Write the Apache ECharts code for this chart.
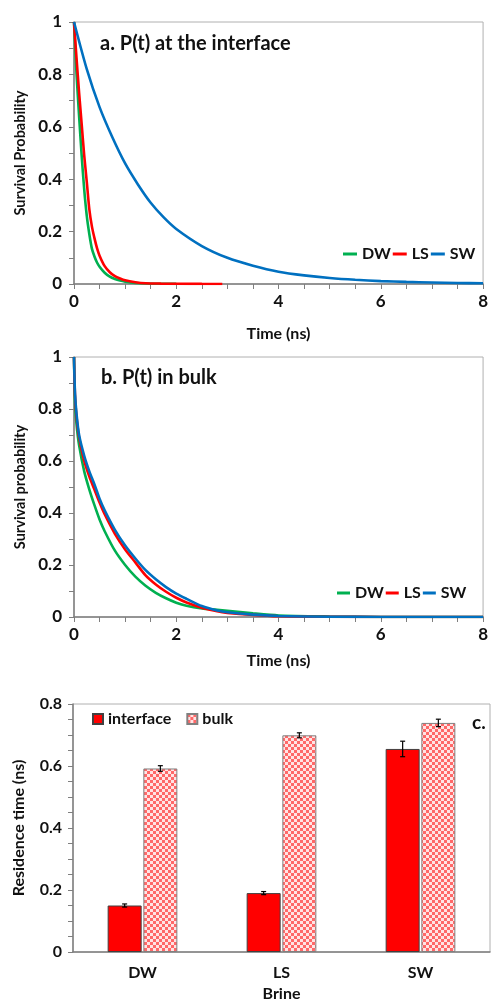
<!DOCTYPE html>
<html>
<head>
<meta charset="utf-8">
<script src="https://cdn.jsdelivr.net/npm/echarts@6/dist/echarts.min.js"></script>
<style>
html,body{margin:0;padding:0;background:#fff;}
#chart{width:491px;height:1003px;}
</style>
</head>
<body>
<div id="chart"></div>
<script>
// ---------- Data ----------
// Panel a: survival probability at the interface
const tFastA = [0, 0.05, 0.1, 0.15, 0.2, 0.25, 0.3, 0.35, 0.4, 0.45, 0.5, 0.6, 0.7, 0.8, 0.9, 1.0, 1.2, 1.4, 1.7, 2.0, 2.5, 2.9];
const dwInterface = [1.0, 0.80, 0.64, 0.49, 0.36, 0.26, 0.19, 0.135, 0.105, 0.082, 0.066, 0.043, 0.028, 0.019, 0.013, 0.009, 0.004, 0.002, 0.001, 0.0005, null, null];
const lsInterface = [1.0, 0.86, 0.73, 0.61, 0.49, 0.39, 0.285, 0.22, 0.175, 0.137, 0.108, 0.068, 0.045, 0.03, 0.021, 0.014, 0.007, 0.003, 0.0015, 0.0008, 0.0003, 0.0002];
const tSlowA = [0, 0.25, 0.5, 0.75, 1, 1.25, 1.5, 1.75, 2, 2.5, 3, 3.5, 4, 4.5, 5, 5.5, 6, 6.5, 7, 7.5, 8];
const swInterface = [1.0, 0.82, 0.675, 0.56, 0.46, 0.38, 0.31, 0.255, 0.21, 0.145, 0.10, 0.07, 0.047, 0.033, 0.023, 0.016, 0.011, 0.008, 0.006, 0.004, 0.003];

// Panel b: survival probability in bulk
const tB = [0, 0.02, 0.05, 0.1, 0.2, 0.3, 0.4, 0.5, 0.6, 0.8, 1.0, 1.2, 1.4, 1.6, 1.8, 2.0, 2.2, 2.5, 2.8, 3.0, 3.5, 4.0, 5, 6, 7, 8];
const dwBulk = [1.0, 0.82, 0.74, 0.66, 0.56, 0.49, 0.43, 0.375, 0.33, 0.255, 0.2, 0.155, 0.12, 0.093, 0.072, 0.055, 0.043, 0.033, 0.028, 0.024, 0.014, 0.006, 0.002, 0, 0, 0];
const lsBulk = [1.0, 0.85, 0.77, 0.69, 0.60, 0.54, 0.49, 0.44, 0.395, 0.32, 0.26, 0.21, 0.16, 0.125, 0.097, 0.074, 0.056, 0.036, 0.022, 0.016, 0.008, 0.003, 0.001, 0, 0, 0];
const swBulk = [1.0, 0.86, 0.78, 0.70, 0.62, 0.56, 0.51, 0.455, 0.41, 0.335, 0.275, 0.225, 0.18, 0.145, 0.115, 0.09, 0.07, 0.042, 0.025, 0.018, 0.009, 0.004, 0.001, 0, 0, 0];

// Panel c: residence time
const brines = ['DW', 'LS', 'SW'];
const resInterface = [0.15, 0.19, 0.655];
const resInterfaceErr = [0.005, 0.005, 0.025];
const resBulk = [0.592, 0.699, 0.739];
const resBulkErr = [0.009, 0.008, 0.012];

// ---------- Helpers ----------
function pairs(ts, vs){ const out=[]; for(let i=0;i<ts.length;i++){ if(vs[i]!==null) out.push([ts[i], vs[i]]); } return out; }
const FONT = 'Lato';
const TXT = '#111111';
const GREEN = '#00B050', RED = '#FF0000', BLUE = '#0070C0';

// checker pattern for bulk bars
const pc = document.createElement('canvas'); pc.width = 6; pc.height = 6;
const pctx = pc.getContext('2d');
pctx.fillStyle = '#ffe4e4'; pctx.fillRect(0,0,6,6);
pctx.fillStyle = '#ff6868'; pctx.fillRect(0,0,3,3); pctx.fillRect(3,3,3,3);
const bulkPattern = { image: pc, repeat: 'repeat' };

function valAxisX(gi, nameGap){
  return {
    type:'value', gridIndex: gi, min:0, max:8, interval:2,
    name:'Time (ns)', nameLocation:'middle', nameGap: nameGap,
    nameTextStyle:{fontFamily:FONT, fontWeight:'bold', fontSize:16, color:TXT},
    axisLine:{show:true, lineStyle:{color:'#7f7f7f', width:1.5}},
    axisTick:{show:true, inside:false, length:5, lineStyle:{color:'#7f7f7f'}},
    minorTick:{show:true, splitNumber:4, length:5, lineStyle:{color:'#7f7f7f'}},
    axisLabel:{fontFamily:FONT, fontWeight:'bold', fontSize:17, color:TXT, margin:9},
    splitLine:{show:false}
  };
}
function valAxisY(gi, name, nameGap){
  return {
    type:'value', gridIndex: gi, min:0, max:1, interval:0.2,
    name:name, nameLocation:'middle', nameGap:nameGap,
    nameTextStyle:{fontFamily:FONT, fontWeight:'bold', fontSize:14.5, color:TXT},
    axisLine:{show:true, lineStyle:{color:'#7f7f7f', width:1.5}},
    axisTick:{show:true, inside:false, length:5, lineStyle:{color:'#7f7f7f'}},
    minorTick:{show:true, splitNumber:2, length:5, lineStyle:{color:'#7f7f7f'}},
    axisLabel:{fontFamily:FONT, fontWeight:'bold', fontSize:17, color:TXT, margin:12},
    splitLine:{show:false}
  };
}
function lineSeries(name, color, xi, data){
  return {
    type:'line', name:name, xAxisIndex:xi, yAxisIndex:xi, data:data,
    symbol:'none', smooth:0.25,
    lineStyle:{color:color, width:2.6}, itemStyle:{color:color}
  };
}
const barW = 34, gapPx = 1.7;
function errSeries(name, vals, errs, sign){
  return {
    type:'custom', name:name+'_err', xAxisIndex:2, yAxisIndex:2, z:10,
    data: vals.map((v,i)=>[i, v, errs[i]]),
    renderItem:function(params, api){
      const c = api.value(0), v = api.value(1), e = api.value(2);
      const top = api.coord([c, v+e]), bot = api.coord([c, v-e]);
      const x = top[0] + sign*(barW/2 + gapPx/2);
      const cap = 2.5;
      const st = {stroke:'#000', lineWidth:1.2};
      return {type:'group', children:[
        {type:'line', shape:{x1:x, y1:top[1], x2:x, y2:bot[1]}, style:st},
        {type:'line', shape:{x1:x-cap, y1:top[1], x2:x+cap, y2:top[1]}, style:st},
        {type:'line', shape:{x1:x-cap, y1:bot[1], x2:x+cap, y2:bot[1]}, style:st}
      ]};
    }
  };
}
const legTxt = {fontFamily:FONT, fontWeight:'bold', fontSize:16, color:TXT};

const option = {
  animation:false,
  backgroundColor:'#fff',
  title:[
    {text:'a. P(t) at the interface', left:95, top:29, textStyle:{fontFamily:FONT, fontWeight:'bold', fontSize:20, color:TXT}},
    {text:'b. P(t) in bulk', left:96, top:363, textStyle:{fontFamily:FONT, fontWeight:'bold', fontSize:20, color:TXT}},
    {text:'c.', left:467, top:708, textStyle:{fontFamily:FONT, fontWeight:'bold', fontSize:19, color:TXT}}
  ],
  grid:[
    {left:74, top:22, width:411, height:262, show:true, borderColor:'#b0b0b0', borderWidth:1},
    {left:74, top:357, width:410, height:260, show:true, borderColor:'#b0b0b0', borderWidth:1},
    {left:73, top:704, width:417, height:252, show:true, borderColor:'#b0b0b0', borderWidth:1}
  ],
  legend:[
    {data:['DW','LS','SW'], left:343, top:246, icon:'rect', itemWidth:14, itemHeight:3, itemGap:2, textStyle:legTxt, padding:0, selectedMode:false},
    {data:['DW','LS','SW'], left:337, top:585, icon:'rect', itemWidth:13, itemHeight:3, itemGap:2, textStyle:legTxt, padding:0, selectedMode:false},
    {data:['interface','bulk'], left:92, top:711, icon:'rect', itemWidth:10, itemHeight:10, itemGap:15, textStyle:legTxt, padding:0, selectedMode:false}
  ],
  xAxis:[
    valAxisX(0, 42),
    valAxisX(1, 36),
    {
      type:'category', gridIndex:2, data:brines,
      name:'Brine', nameLocation:'middle', nameGap:34,
      nameTextStyle:{fontFamily:FONT, fontWeight:'bold', fontSize:16, color:TXT},
      axisLine:{show:true, lineStyle:{color:'#7f7f7f', width:1.5}},
      axisTick:{show:false},
      axisLabel:{fontFamily:FONT, fontWeight:'bold', fontSize:16, color:TXT, margin:13}
    }
  ],
  yAxis:[
    valAxisY(0, 'Survival Probability', 45),
    valAxisY(1, 'Survival probability', 45),
    {
      type:'value', gridIndex:2, min:0, max:0.8, interval:0.2,
      name:'Residence time (ns)', nameLocation:'middle', nameGap:46,
      nameTextStyle:{fontFamily:FONT, fontWeight:'bold', fontSize:16, color:TXT},
      axisLine:{show:true, lineStyle:{color:'#7f7f7f', width:1.5}},
      axisTick:{show:true, length:5, lineStyle:{color:'#7f7f7f'}},
      minorTick:{show:true, splitNumber:4, length:5, lineStyle:{color:'#7f7f7f'}},
      axisLabel:{fontFamily:FONT, fontWeight:'bold', fontSize:16, color:TXT, margin:11},
      splitLine:{show:false}
    }
  ],
  series:[
    lineSeries('DW', GREEN, 0, pairs(tFastA, dwInterface)),
    lineSeries('LS', RED, 0, pairs(tFastA, lsInterface)),
    lineSeries('SW', BLUE, 0, pairs(tSlowA, swInterface)),
    lineSeries('DW', GREEN, 1, pairs(tB, dwBulk)),
    lineSeries('LS', RED, 1, pairs(tB, lsBulk)),
    lineSeries('SW', BLUE, 1, pairs(tB, swBulk)),
    {
      type:'bar', name:'interface', xAxisIndex:2, yAxisIndex:2, data:resInterface,
      barWidth:barW, barGap:'5%',
      itemStyle:{color:RED, borderColor:'#404040', borderWidth:1}
    },
    {
      type:'bar', name:'bulk', xAxisIndex:2, yAxisIndex:2, data:resBulk,
      barWidth:barW, barGap:'5%',
      itemStyle:{color:bulkPattern, borderColor:'#808080', borderWidth:1}
    },
    errSeries('interface', resInterface, resInterfaceErr, -1),
    errSeries('bulk', resBulk, resBulkErr, 1)
  ]
};
const chart = echarts.init(document.getElementById('chart'), null, {renderer:'canvas'});
chart.setOption(option);
</script>
</body>
</html>
